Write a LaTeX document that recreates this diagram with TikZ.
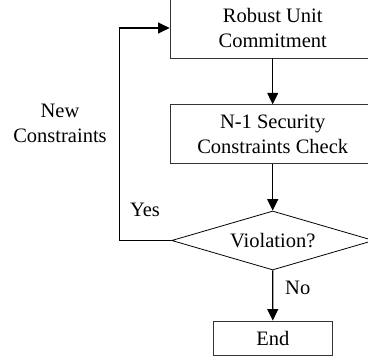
\documentclass[tikz,border=0pt]{standalone}
\usepackage{fontspec}
\setmainfont{Liberation Serif}
\usetikzlibrary{shapes.geometric,arrows.meta}
\begin{document}
\begin{tikzpicture}[x=1pt,y=-1pt,
  font=\fontsize{20.5}{25}\selectfont,
  procbox/.style={draw=black!80,line width=0.8pt,rectangle,align=center,inner sep=0pt},
  decbox/.style={draw=black,line width=0.8pt,diamond,aspect=3.42,inner sep=0pt,minimum width=202pt,minimum height=59pt},
  flow/.style={draw=black,line width=1.1pt,-{Triangle[length=11.5pt,width=11pt]}},
  lbl/.style={align=center,inner sep=0pt}]
\useasboundingbox (0,0) rectangle (368,363);
\clip (0,0) rectangle (368,363);
\node[procbox,minimum width=205.4pt,minimum height=60pt] (ruc) at (272.7,28) {Robust Unit\\Commitment};
\node[procbox,minimum width=205.4pt,minimum height=58.6pt] (chk) at (272.7,134) {N-1 Security\\Constraints Check};
\node[decbox] (dec) at (272.7,240.5) {Violation?};
\node[procbox,minimum width=119pt,minimum height=34.7pt] (end) at (272.8,338.3) {End};
\coordinate (lb) at (119.3,240.5);
\coordinate (lt) at (119.3,28);
\draw[flow] (ruc) -- (chk);
\draw[flow] (chk) -- (dec);
\draw[flow] (dec) -- (end);
\draw[flow] (dec.west) -- (lb) -- (lt) -- (ruc.west);
\node[lbl] (nc) at (60,123.5) {New\\Constraints};
\node[lbl] (yes) at (145,210) {Yes};
\node[lbl,anchor=west] (no) at (285,288) {No};
\end{tikzpicture}
\end{document}
